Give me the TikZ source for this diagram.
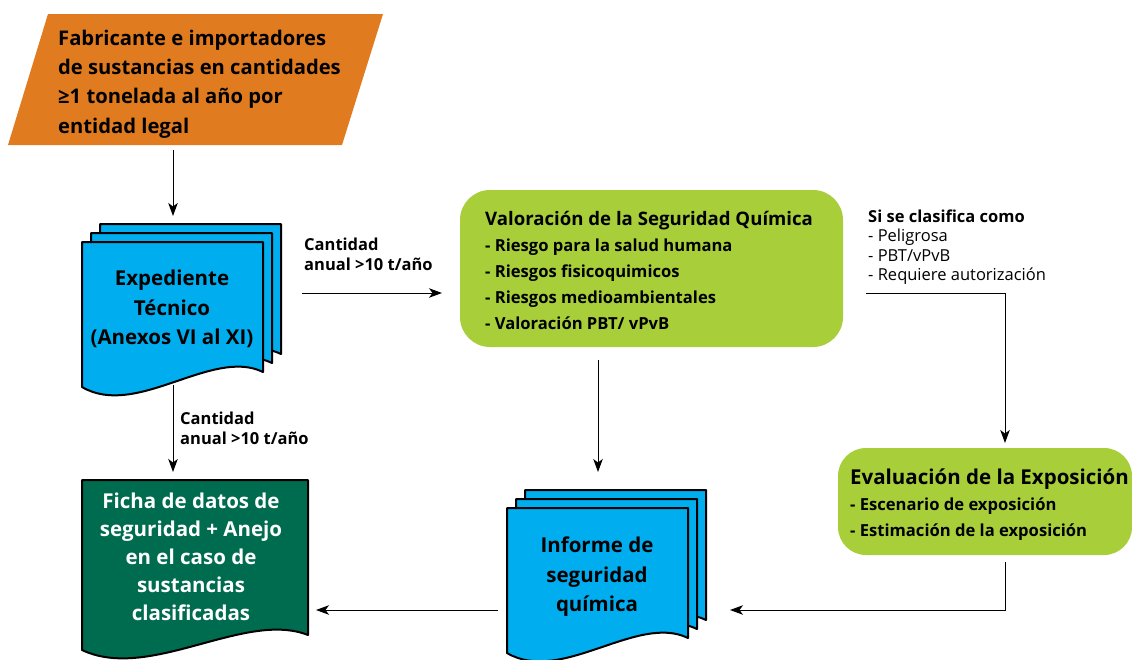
\documentclass[tikz,border=0pt]{standalone}
\usepackage{fontspec}
\setmainfont{Open Sans}
\usetikzlibrary{arrows.meta}
\definecolor{orng}{HTML}{E07B1F}
\definecolor{docblue}{HTML}{00AEEF}
\definecolor{lgreen}{HTML}{A8CE3A}
\definecolor{dgreen}{HTML}{006C4F}
\newcommand\mydoc[5]{%
  \filldraw[#5] (#1,#2) -- ({#1+#3},#2) -- ({#1+#3},{#2+#4-15})
    .. controls ({#1+0.72*#3},{#2+#4-40}) and ({#1+0.3*#3},{#2+#4+32}) .. (#1,{#2+#4}) -- cycle;}
\tikzset{
  docfill/.style={fill=docblue,draw=black,line width=2pt,line join=round},
  fichafill/.style={fill=dgreen,draw=black,line width=2pt,line join=round},
  arr/.style={line width=1pt,-{Stealth[length=13pt,width=9.5pt,inset=3.5pt]}},
  bigtxt/.style={inner sep=0pt,font=\fontsize{20.5}{29.5}\selectfont\bfseries},
  midtxt/.style={inner sep=0pt,font=\fontsize{16.6}{26}\selectfont\bfseries},
  smalltxt/.style={inner sep=0pt,font=\fontsize{16.5}{20}\selectfont\bfseries},
}
\begin{document}
\begin{tikzpicture}[x=1pt,y=-1pt]
\useasboundingbox[fill=white] (0,0) rectangle (1132,659);
% Fabricante
\fill[orng] (48,14) -- (383,14) -- (342,145) -- (8,145) -- cycle;
\node[inner sep=0pt,font=\fontsize{20.2}{29.3}\selectfont\bfseries,anchor=west,align=left] (fab) at (58,84)
  {Fabricante e importadores\\de sustancias en cantidades\\≥1 tonelada al año por\\entidad legal};
% Expediente stack
\mydoc{100}{224}{181}{145}{docfill}
\mydoc{91}{233}{181}{145}{docfill}
\mydoc{82}{242}{181}{145}{docfill}
\node[bigtxt,align=center] (exp) at (172,309) {Expediente\\Técnico\\(Anexos VI al XI)};
% Ficha
\mydoc{82}{480}{226}{170}{fichafill}
\node[inner sep=0pt,font=\fontsize{20.5}{28}\selectfont\bfseries,align=center,text=white] (ficha) at (191,557)
  {Ficha de datos de\\seguridad + Anejo\\en el caso de\\sustancias\\clasificadas};
% Informe stack
\mydoc{525}{490}{181}{145}{docfill}
\mydoc{516}{499}{181}{145}{docfill}
\mydoc{507}{508}{181}{145}{docfill}
\node[bigtxt,align=center] (inf) at (597,577) {Informe de\\seguridad\\química};
% Valoracion
\fill[lgreen,rounded corners=30pt] (460,190) rectangle (843,347);
\node[inner sep=0pt,anchor=base west,font=\fontsize{18.6}{24}\selectfont\bfseries] (valt) at (485,225)
  {Valoración de la Seguridad Química};
\node[midtxt,anchor=north west,align=left] (vali) at (485,239)
  {- Riesgo para la salud humana\\- Riesgos fisicoquimicos\\- Riesgos medioambientales\\- Valoración PBT/ vPvB};
% Evaluacion
\fill[lgreen,rounded corners=28pt] (838,448) rectangle (1132,555);
\node[inner sep=0pt,anchor=base west,font=\fontsize{20.5}{24}\selectfont\bfseries] (evat) at (850,484)
  {Evaluación de la Exposición};
\node[midtxt,anchor=north west,align=left] (evai) at (850,498)
  {- Escenario de exposición\\- Estimación de la exposición};
% labels
\node[smalltxt,anchor=north west,align=left] (cant1) at (304,238) {Cantidad\\anual >10 t/año};
\node[smalltxt,anchor=north west,align=left] (cant2) at (180,412) {Cantidad\\anual >10 t/año};
\node[inner sep=0pt,anchor=north west,align=left,font=\fontsize{16.5}{19.1}\selectfont] (clas) at (868,210)
  {\textbf{Si se clasifica como}\\- Peligrosa\\- PBT/vPvB\\- Requiere autorización};
% connector end points
\coordinate (fabB) at (173,150);
\coordinate (expT) at (173,216);
\coordinate (expB) at (173,385);
\coordinate (fichaT) at (173,472);
\coordinate (expR) at (302,293);
\coordinate (valL) at (442,293);
\coordinate (valB) at (598,360);
\coordinate (infT) at (598,472);
\coordinate (clasB) at (866,293);
\coordinate (evaT) at (1005,443);
\coordinate (evaB) at (1005,562);
\coordinate (infR) at (730,610);
\coordinate (infL) at (498,610);
\coordinate (fichaR) at (316,610);
\draw[arr] (fabB) -- (expT);
\draw[arr] (expB) -- (fichaT);
\draw[arr] (expR) -- (valL);
\draw[arr] (valB) -- (infT);
\draw[arr] (clasB) -| (evaT);
\draw[arr] (evaB) |- (infR);
\draw[arr] (infL) -- (fichaR);
\end{tikzpicture}
\end{document}
